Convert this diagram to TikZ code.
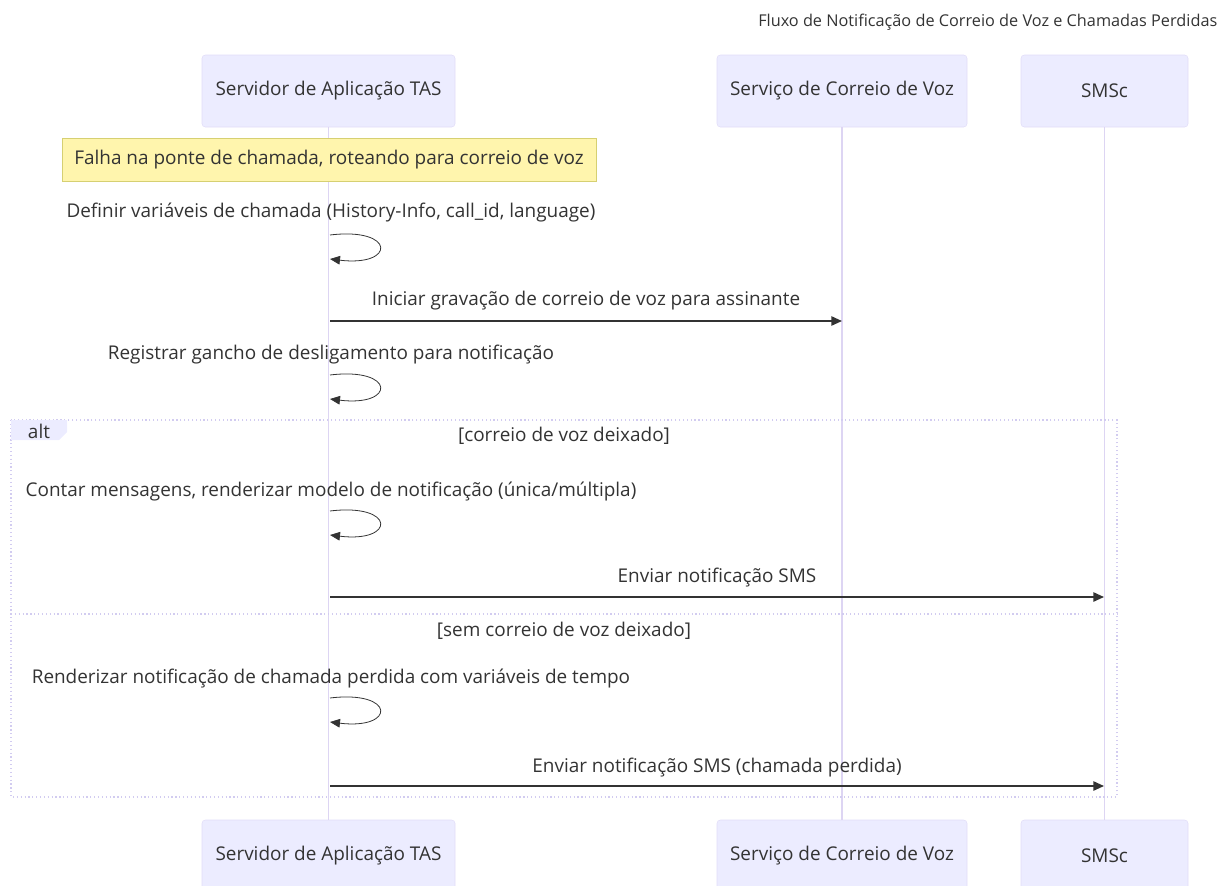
\documentclass[tikz,border=0pt]{standalone}
\usepackage{fontspec}
\setmainfont{Open Sans}
\usetikzlibrary{arrows.meta}

\definecolor{actorfill}{HTML}{ECECFF}
\definecolor{actorline}{HTML}{E1DCF8}
\definecolor{lifecol}{HTML}{DDD5F3}
\definecolor{notefill}{HTML}{FFF5AD}
\definecolor{noteline}{HTML}{D6D072}
\definecolor{textcol}{HTML}{333333}
\definecolor{altline}{HTML}{D2CCF0}

\tikzset{
  actor/.style={draw=actorline, fill=actorfill, rounded corners=2.5pt,
    minimum height=54pt, text=textcol, font=\fontsize{14.2}{16}\selectfont},
  lifeline/.style={draw=lifecol, line width=1.1pt},
  msgtext/.style={text=textcol, font=\fontsize{14.2}{16}\selectfont},
  msg/.style={draw=textcol, line width=1.2pt, -{Triangle[length=8pt,width=7pt]}},
  selfmsg/.style={draw=textcol, line width=0.6pt, -{Triangle[length=7.5pt,width=6.5pt]}},
  altbox/.style={draw=altline, line width=0.9pt, dotted},
}

\begin{document}
\begin{tikzpicture}[x=0.75pt, y=-0.75pt]
    \useasboundingbox (0,0) rectangle (1229,886);

    % titulo
    \node[msgtext, font=\fontsize{12.2}{14}\selectfont, anchor=east] (title) at (1222,22) {Fluxo de Notificação de Correio de Voz e Chamadas Perdidas};

    % participantes (topo e base)
    \node[actor, minimum width=189.75pt] (tas) at (328.5,91) {Servidor de Aplicação TAS};
    \node[actor, minimum width=187.5pt] (vm) at (842,91) {Serviço de Correio de Voz};
    \node[actor, minimum width=125.25pt] (sms) at (1104.5,91) {SMSc};
    \node[actor, minimum width=189.75pt] (tasb) at (328.5,856) {Servidor de Aplicação TAS};
    \node[actor, minimum width=187.5pt] (vmb) at (842,856) {Serviço de Correio de Voz};
    \node[actor, minimum width=125.25pt] (smsb) at (1104.5,856) {SMSc};

    % linhas de vida
    \draw[lifeline] (tas) -- (tasb);
    \draw[lifeline] (vm) -- (vmb);
    \draw[lifeline] (sms) -- (smsb);

    % nota
    \node[draw=noteline, fill=notefill, minimum width=400.5pt, minimum height=32.25pt,
      msgtext] (falha) at (329,159.5) {Falha na ponte de chamada, roteando para correio de voz};

    % bloco alt
    \draw[altbox] (11,420) rectangle (1117,797);
    \draw[altbox] (11,614) -- (1117,614);
    \fill[actorfill] (11,420) -- (67,420) -- (67,432) -- (59,440) -- (11,440) -- cycle;
    \node[msgtext] (alt) at (39,431) {alt};
    \node[msgtext] (cond1) at (564,436) {[correio de voz deixado]};
    \node[msgtext] (cond2) at (564,631) {[sem correio de voz deixado]};

    % pontos das mensagens
    \coordinate (t1a) at (330,235); \coordinate (t1b) at (330,259);
    \coordinate (t2) at (330,321);  \coordinate (v2) at (842,321);
    \coordinate (t3a) at (330,375); \coordinate (t3b) at (330,399);
    \coordinate (t4a) at (330,511); \coordinate (t4b) at (330,535);
    \coordinate (t5) at (330,597);  \coordinate (s5) at (1104,597);
    \coordinate (t6a) at (330,698); \coordinate (t6b) at (330,722);
    \coordinate (t7) at (330,786);  \coordinate (s7) at (1104,786);

    % mensagens
    \node[msgtext] (m1) at (331,213) {Definir variáveis de chamada (History-Info, call\_id, language)};
    \draw[selfmsg] (t1a) .. controls +(66,-8) and +(66,8) .. (t1b);

    \node[msgtext] (m2) at (586,301) {Iniciar gravação de correio de voz para assinante};
    \draw[msg] (t2) -- (v2);

    \node[msgtext] (m3) at (331,355) {Registrar gancho de desligamento para notificação};
    \draw[selfmsg] (t3a) .. controls +(66,-8) and +(66,8) .. (t3b);

    \node[msgtext] (m4) at (331,492) {Contar mensagens, renderizar modelo de notificação (única/múltipla)};
    \draw[selfmsg] (t4a) .. controls +(66,-8) and +(66,8) .. (t4b);

    \node[msgtext] (m5) at (717,578) {Enviar notificação SMS};
    \draw[msg] (t5) -- (s5);

    \node[msgtext] (m6) at (331,679) {Renderizar notificação de chamada perdida com variáveis de tempo};
    \draw[selfmsg] (t6a) .. controls +(66,-8) and +(66,8) .. (t6b);

    \node[msgtext] (m7) at (717,768) {Enviar notificação SMS (chamada perdida)};
    \draw[msg] (t7) -- (s7);

\end{tikzpicture}
\end{document}
